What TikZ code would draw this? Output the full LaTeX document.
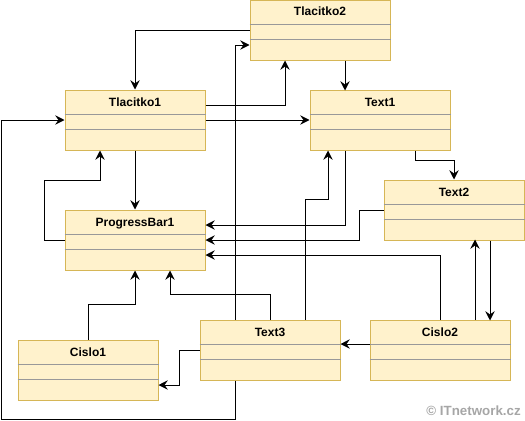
\documentclass[tikz,border=0pt]{standalone}
\usepackage{fontspec}
\setmainfont{Liberation Sans}
\usetikzlibrary{arrows.meta,calc}
\definecolor{boxfill}{HTML}{FFF2CC}
\definecolor{boxline}{HTML}{D6B656}
\definecolor{sepline}{HTML}{999999}
\definecolor{markgray}{HTML}{A6A6A6}
\tikzstyle{line} = [draw, line width=0.75pt, -{Stealth[length=7pt,width=7pt,inset=2.5pt]}]
\tikzstyle{cls} = [rectangle, draw=boxline, fill=boxfill, line width=0.75pt, inner sep=0pt, minimum width=105pt, minimum height=45pt, text height=12pt, text depth=33pt, font=\bfseries\fontsize{9}{10}\selectfont]

\begin{document}
\begin{tikzpicture}[x=0.75pt, y=-0.75pt]
	\useasboundingbox (0,0) rectangle (525,421);

	\node [cls] (t2) at (320,30) {Tlacitko2};
	\node [cls] (t1) at (135,120) {Tlacitko1};
	\node [cls] (x1) at (380,120) {Text1};
	\node [cls] (x2) at (454,210) {Text2};
	\node [cls] (pb) at (135,240) {ProgressBar1};
	\node [cls] (c1) at (88,370) {Cislo1};
	\node [cls] (x3) at (270,350) {Text3};
	\node [cls] (c2) at (440,350) {Cislo2};
	\foreach \n in {t2,t1,x1,x2,pb,c1,x3,c2} {
		\draw [sepline, line width=0.75pt] ($(\n.north west)+(0,25)$) -- ($(\n.north east)+(0,25)$);
		\draw [sepline, line width=0.75pt] ($(\n.north west)+(0,40)$) -- ($(\n.north east)+(0,40)$);
	}
	\coordinate (edge) at (1,419);

	\path [line] (t2.west) -| (t1.north);
	\path [line] ($(t1.east)+(0,-15)$) -| ($(t2.south)+(-35,0)$);
	\path [line] (t1.east) -- (x1.west);
	\path [line] ($(t2.south)+(25,0)$) -- ++(0,30);
	\path [line] (t1.south) -- (pb.north);
	\path [line] (pb.west) -- ++(-20,0) |- ($(t1.south)+(-35,30)$) -- ($(t1.south)+(-35,0)$);
	\path [line] ($(x3.north)+(-35,0)$) |- ($(t2.west)+(0,15)$);
	\path [line] ($(x3.south)+(-35,0)$) |- (edge) |- (t1.west);

	\path [line] ($(x1.south)+(-35,0)$) |- ($(pb.east)+(0,-15)$);
	\path [line] (x2.west) -- ++(-24,0) |- (pb.east);
	\path [line] (c2.north) |- ($(pb.east)+(0,15)$);
	\path [line] (x3.north) -- ++(0,-25) -| ($(pb.south)+(35,0)$);
	\path [line] ($(x3.north)+(35,0)$) -- ++(0,-120) -| ($(x1.south)+(-52,0)$);
	\path [line] ($(x1.south)+(35,0)$) -- ++(0,10) -| (x2.north);
	\path [line] ($(c2.north)+(35,0)$) -- ++(0,-80);
	\path [line] ($(x2.south)+(36,0)$) -- ++(0,80);
	\path [line] ($(c2.west)+(0,-6)$) -- ($(x3.east)+(0,-6)$);
	\path [line] (c1.north) -- ++(0,-35) -| (pb.south);
	\path [line] (x3.west) -- ++(-20,0) |- ($(c1.east)+(0,15)$);

	\node [anchor=south east, text=markgray, inner sep=0pt, font=\bfseries\fontsize{10}{12}\selectfont] (mark) at (521,416) {© ITnetwork.cz};
\end{tikzpicture}
\end{document}
